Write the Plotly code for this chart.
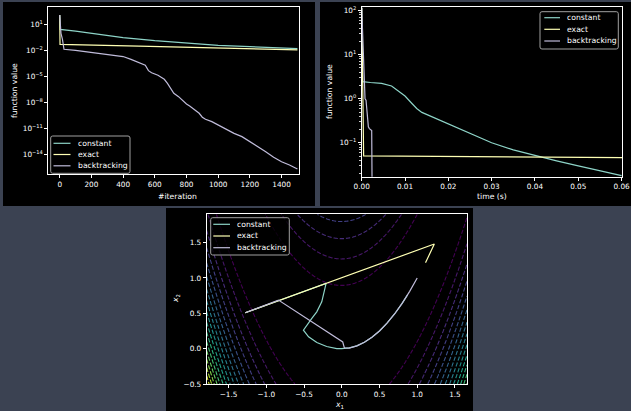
import numpy as np
import plotly.graph_objects as go

# ---------------- data ----------------
series_names = ["constant", "exact", "backtracking"]
series_colors = ["#8dd3c7", "#feffb3", "#bfbbd9"]

# function value vs iteration
iter_constant = [0, 3, 100, 200, 400, 600, 800, 1000, 1200, 1400, 1500]
f_constant_iter = [1.2e2, 2.6, 1.6, 0.91, 0.29, 0.13, 0.065, 0.038, 0.026, 0.019, 0.016]
iter_exact = [0, 2, 500, 1000, 1500]
f_exact_iter = [1.2e2, 4.9e-2, 3.0e-2, 1.8e-2, 1.1e-2]
iter_backtracking = [0, 8, 17, 27, 100, 200, 300, 400, 450, 480, 500, 540, 560, 580,
                     620, 660, 680, 700, 720, 750, 780, 800, 820, 850, 880, 900, 920,
                     960, 1000, 1050, 1100, 1150, 1200, 1250, 1300, 1350, 1400, 1450, 1500]
f_backtracking_iter = [1.2e2, 0.91, 0.19, 1.3e-2, 1.0e-2, 5.9e-3, 3.8e-3, 1.9e-3, 9.1e-4,
                       5.4e-4, 4.2e-4, 1.9e-4, 4.5e-5, 2.6e-5, 1.3e-5, 4.5e-6, 1.5e-6,
                       4.2e-7, 1.1e-7, 4.5e-8, 1.2e-8, 6.5e-9, 3.8e-9, 1.3e-9, 5.4e-10,
                       1.9e-10, 1.1e-10, 5.9e-11, 2.4e-11, 7.6e-12, 2.6e-12, 1.1e-12,
                       2.9e-13, 9.1e-14, 2.0e-14, 4.5e-15, 1.4e-15, 5.9e-16, 2.0e-16]

# function value vs time (s)
time_constant = [0, 0.0002, 0.002, 0.0046, 0.0069, 0.0085, 0.010, 0.0116, 0.0127, 0.0139,
                 0.0162, 0.0181, 0.020, 0.025, 0.030, 0.035, 0.040, 0.045, 0.050, 0.055, 0.060]
f_constant_time = [117, 2.45, 2.34, 2.24, 1.95, 1.51, 1.15, 0.78, 0.60, 0.49, 0.39, 0.32,
                   0.265, 0.16, 0.10, 0.069, 0.051, 0.039, 0.030, 0.023, 0.018]
time_exact = [0, 0.00045, 0.065]
f_exact_time = [117, 5.07e-2, 4.55e-2]
time_backtracking = [0, 0.00054, 0.00077, 0.001, 0.00123, 0.00139, 0.00154, 0.00177,
                     0.00216, 0.00231, 0.00247, 0.0025]
f_backtracking_time = [117, 3.2, 1.0, 0.93, 0.51, 0.43, 0.23, 0.21, 0.19, 0.19, 1e-3, 2e-16]

# optimisation paths in the (x1, x2) plane
path_constant_x1 = [-1.28, -0.2075, -0.265, -0.331, -0.397, -0.508, -0.44, -0.33, -0.2,
                    -0.066, 0.0, 0.1, 0.2, 0.3, 0.4, 0.5, 0.6, 0.7, 0.8, 0.87]
path_constant_x2 = [0.507, 0.923, 0.663, 0.521, 0.427, 0.261, 0.167, 0.086, 0.03,
                    0.001, 0.0, 0.01, 0.04, 0.09, 0.16, 0.25, 0.36, 0.49, 0.64, 0.757]
path_exact_x1 = [-1.28, 1.227, 1.113, 1.11]
path_exact_x2 = [0.507, 1.48, 1.221, 1.215]
path_backtracking_x1 = [-1.28, -0.839, 0.013, 0.035, 0.1, 0.2, 0.3, 0.4, 0.5, 0.6, 0.7,
                        0.8, 0.9, 1.0]
path_backtracking_x2 = [0.507, 0.687, 0.094, 0.01, 0.008, 0.04, 0.09, 0.16, 0.25, 0.36,
                        0.49, 0.64, 0.81, 1.0]

# Rosenbrock background and its contour levels
rosen_a, rosen_b = 1.0, 100.0
level_start, level_step, level_end = 81, 81, 1377

tl_xticks = [0, 200, 400, 600, 800, 1000, 1200, 1400]
tl_yticks = [1e1, 1e-2, 1e-5, 1e-8, 1e-11, 1e-14]
tl_yticktext = ["10<sup>1</sup>", "10<sup>−2</sup>", "10<sup>−5</sup>",
                "10<sup>−8</sup>", "10<sup>−11</sup>", "10<sup>−14</sup>"]
tr_xticks = [0, 0.01, 0.02, 0.03, 0.04, 0.05, 0.06]
tr_xticktext = ["0.00", "0.01", "0.02", "0.03", "0.04", "0.05", "0.06"]
tr_yticks = [1e-1, 1e0, 1e1, 1e2]
tr_yticktext = ["10<sup>−1</sup>", "10<sup>0</sup>", "10<sup>1</sup>", "10<sup>2</sup>"]
bt_xticks = [-1.5, -1.0, -0.5, 0.0, 0.5, 1.0, 1.5]
bt_xticktext = ["−1.5", "−1.0", "−0.5", "0.0", "0.5", "1.0", "1.5"]
bt_yticks = [-0.5, 0.0, 0.5, 1.0, 1.5]
bt_yticktext = ["−0.5", "0.0", "0.5", "1.0", "1.5"]

# ---------------- figure ----------------
W, H = 631, 411
FONT = "DejaVu Sans"
TICK_SIZE = 7.3
LABEL_SIZE = 7.7


def fx(p):
    return p / W


def fy(p):
    return 1 - p / H


fig = go.Figure()

# contour background
gx = np.linspace(-1.79, 1.66, 300)
gy = np.linspace(-0.5, 1.9, 300)
GX, GY = np.meshgrid(gx, gy)
GZ = (rosen_a - GX) ** 2 + rosen_b * (GY - GX ** 2) ** 2
fig.add_trace(go.Contour(
    x=gx, y=gy, z=GZ, xaxis="x3", yaxis="y3",
    contours=dict(start=level_start, end=level_end, size=level_step, coloring="lines"),
    colorscale="Viridis", zmin=0, zmax=level_end, showscale=False,
    line=dict(width=1.1, dash="4.3px,1.9px"), hoverinfo="skip", showlegend=False))

iter_data = [(iter_constant, f_constant_iter), (iter_exact, f_exact_iter),
             (iter_backtracking, f_backtracking_iter)]
time_data = [(time_constant, f_constant_time), (time_exact, f_exact_time),
             (time_backtracking, f_backtracking_time)]
path_data = [(path_constant_x1, path_constant_x2), (path_exact_x1, path_exact_x2),
             (path_backtracking_x1, path_backtracking_x2)]

for name, color, (xs, ys) in zip(series_names, series_colors, iter_data):
    fig.add_trace(go.Scatter(x=xs, y=ys, mode="lines", name=name, xaxis="x", yaxis="y",
                             line=dict(color=color, width=1.2), showlegend=False))
for name, color, (xs, ys) in zip(series_names, series_colors, time_data):
    fig.add_trace(go.Scatter(x=xs, y=ys, mode="lines", name=name, xaxis="x2", yaxis="y2",
                             line=dict(color=color, width=1.2), showlegend=False))
for name, color, (xs, ys) in zip(series_names, series_colors, path_data):
    fig.add_trace(go.Scatter(x=xs, y=ys, mode="lines", name=name, xaxis="x3", yaxis="y3",
                             line=dict(color=color, width=1.2), showlegend=False))

base_axis = dict(showline=True, linecolor="white", linewidth=1, mirror=True,
                 ticks="outside", ticklen=3, tickwidth=1, tickcolor="white",
                 showgrid=False, zeroline=False, fixedrange=True,
                 tickfont=dict(family=FONT, size=TICK_SIZE, color="white"))

minor_vals = [k * 10.0 ** d for d in range(-2, 2) for k in range(2, 10)]

fig.update_layout(
    width=W, height=H, template="none",
    margin=dict(l=0, r=0, t=0, b=0),
    paper_bgcolor="#3b4252", plot_bgcolor="black",
    font=dict(family=FONT, color="white"),
    showlegend=False,
    xaxis=dict(base_axis, domain=[fx(48.3), fx(299)], anchor="y",
               range=[-72, 1510], tickvals=tl_xticks),
    yaxis=dict(base_axis, domain=[fy(174), fy(6.7)], anchor="x", type="log",
               range=[-16.27, 3.03], tickvals=tl_yticks, ticktext=tl_yticktext),
    xaxis2=dict(base_axis, domain=[fx(361.7), fx(622)], anchor="y2",
                range=[0, 0.0601], tickvals=tr_xticks, ticktext=tr_xticktext),
    yaxis2=dict(base_axis, domain=[fy(176.7), fy(7.3)], anchor="x2", type="log",
                range=[-1.77, 2.076], tickvals=tr_yticks, ticktext=tr_yticktext,
                minor=dict(tickvals=minor_vals, ticks="outside", ticklen=1.6,
                           tickwidth=0.8, tickcolor="white")),
    xaxis3=dict(base_axis, domain=[fx(206.7), fx(467)], anchor="y3",
                range=[-1.79, 1.66], tickvals=bt_xticks, ticktext=bt_xticktext),
    yaxis3=dict(base_axis, domain=[fy(384), fy(214.3)], anchor="x3",
                range=[-0.5, 1.9], tickvals=bt_yticks, ticktext=bt_yticktext),
)

# black figure panels
for (x0, y0, x1, y1) in [(3, 2, 315, 206), (320, 2, 631, 206), (166, 208, 473, 411)]:
    fig.add_shape(type="rect", xref="paper", yref="paper", layer="below",
                  x0=fx(x0), x1=fx(x1), y0=fy(y1), y1=fy(y0),
                  fillcolor="black", line=dict(width=0))

# axis titles
def label(text, x, y, angle=0):
    fig.add_annotation(text=text, xref="paper", yref="paper", x=fx(x), y=fy(y),
                       showarrow=False, textangle=angle, xanchor="center", yanchor="middle",
                       font=dict(family=FONT, size=LABEL_SIZE, color="white"))


label("#iteration", 178, 196)
label("function value", 14, 91, -90)
label("time (s)", 491.8, 196.5)
label("function value", 330, 92, -90)
label("<i>x</i><sub>1</sub>", 339, 404.5)
label("<i>x</i><sub>2</sub>", 176, 299, -90)


# legends (matplotlib style: short line handles)
def legend(box, rows_y, line_x0, line_x1, text_x):
    x0, y0, x1, y1 = box
    r = 2.0
    X0, X1 = fx(x0), fx(x1)
    Y0, Y1 = fy(y1), fy(y0)
    rx, ry = r / W, r / H
    path = (f"M{X0 + rx},{Y0} L{X1 - rx},{Y0} Q{X1},{Y0} {X1},{Y0 + ry} "
            f"L{X1},{Y1 - ry} Q{X1},{Y1} {X1 - rx},{Y1} L{X0 + rx},{Y1} "
            f"Q{X0},{Y1} {X0},{Y1 - ry} L{X0},{Y0 + ry} Q{X0},{Y0} {X0 + rx},{Y0} Z")
    fig.add_shape(type="path", path=path, xref="paper", yref="paper",
                  fillcolor="rgba(0,0,0,0.8)", line=dict(color="#a0a0a0", width=1))
    for name, color, yy in zip(series_names, series_colors, rows_y):
        fig.add_shape(type="line", xref="paper", yref="paper",
                      x0=fx(line_x0), x1=fx(line_x1), y0=fy(yy), y1=fy(yy),
                      line=dict(color=color, width=1.2))
        fig.add_annotation(text=name, xref="paper", yref="paper", x=fx(text_x), y=fy(yy),
                           showarrow=False, xanchor="left", yanchor="middle",
                           font=dict(family=FONT, size=LABEL_SIZE, color="white"))


legend((50.7, 136, 130, 173.3), [143.3, 154.5, 165.8], 53.5, 70.5, 75.5)
legend((540, 11.7, 618.3, 49), [17.7, 29.3, 41], 544.3, 560, 564.5)
legend((210.7, 217.7, 289.3, 255), [224.3, 236, 247.7], 213.3, 230, 234.5)

fig.write_html("out.html",
               config={"displayModeBar": False, "staticPlot": True},
               post_script="document.body.style.margin='0px';"
                           "document.body.style.padding='0px';"
                           "document.body.style.overflow='hidden';")
